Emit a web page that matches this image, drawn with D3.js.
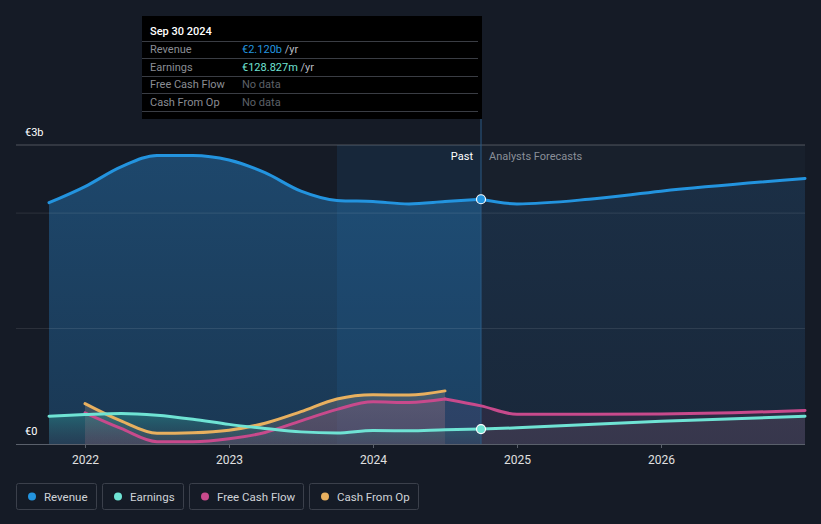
<!DOCTYPE html>
<html>
<head>
<meta charset="utf-8">
<script src="https://cdn.jsdelivr.net/npm/d3@7"></script>
<style>
  html, body { margin: 0; padding: 0; background: #151b26; }
  svg { display: block; font-family: Roboto, "Open Sans", sans-serif; }
</style>
</head>
<body>
<svg id="chart" width="821" height="524"></svg>
<script>
// ---- data (values in € billions, x in fractional years) ----
const revenuePastYears = [2021.75, 2022, 2022.25, 2022.5, 2022.75, 2023, 2023.25, 2023.5, 2023.75, 2024, 2024.25, 2024.5, 2024.75];
const revenuePast      = [2.09, 2.23, 2.40, 2.50, 2.50, 2.46, 2.35, 2.19, 2.11, 2.10, 2.08, 2.10, 2.12];
const revenueFcYears   = [2024.75, 2025, 2025.5, 2026, 2027];
const revenueFc        = [2.12, 2.08, 2.12, 2.19, 2.30];

const earningsPastYears = [2021.75, 2022, 2022.25, 2022.5, 2022.75, 2023, 2023.25, 2023.5, 2023.75, 2024, 2024.25, 2024.5, 2024.75];
const earningsPast      = [0.24, 0.255, 0.265, 0.25, 0.215, 0.17, 0.135, 0.105, 0.095, 0.117, 0.115, 0.124, 0.129];
const earningsFcYears   = [2024.75, 2025, 2026, 2027];
const earningsFc        = [0.129, 0.14, 0.197, 0.24];

const fcfPastYears = [2022, 2022.25, 2022.5, 2022.75, 2023, 2023.25, 2023.5, 2023.75, 2024, 2024.25, 2024.5];
const fcfPast      = [0.27, 0.135, 0.02, 0.02, 0.045, 0.10, 0.20, 0.30, 0.365, 0.36, 0.39];
const fcfFcYears   = [2024.5, 2024.75, 2025, 2025.5, 2026, 2026.5, 2027];
const fcfFc        = [0.39, 0.33, 0.257, 0.257, 0.26, 0.27, 0.29];

const cfoPastYears = [2022, 2022.25, 2022.5, 2022.75, 2023, 2023.25, 2023.5, 2023.75, 2024, 2024.25, 2024.5];
const cfoPast      = [0.35, 0.20, 0.093, 0.098, 0.12, 0.18, 0.28, 0.39, 0.427, 0.424, 0.46];

const xTicks = [2022, 2023, 2024, 2025, 2026];
const yGrid = [1, 2];
const yMax = 2.59;
const yLabels = [{v: 2.59, t: "€3b"}, {v: 0, t: "€0"}];
const pastEnd = 2024.75;
const highlightStart = 2023.75;

const legendItems = [
  {name: "Revenue", color: "#2394df"},
  {name: "Earnings", color: "#6fe3d4"},
  {name: "Free Cash Flow", color: "#c84a8c"},
  {name: "Cash From Op", color: "#e8b05f"}
];

const tooltipTitle = "Sep 30 2024";
const tooltipRows = [
  {label: "Revenue", value: "€2.120b", unit: " /yr", color: "#2394df"},
  {label: "Earnings", value: "€128.827m", unit: " /yr", color: "#6fe3d4"},
  {label: "Free Cash Flow", value: "No data", unit: "", color: "#5d6068"},
  {label: "Cash From Op", value: "No data", unit: "", color: "#5d6068"}
];

// ---- scales ----
const svg = d3.select("#chart");
const x = d3.scaleLinear().domain([2021.743, 2027]).range([48, 805]);
const y = d3.scaleLinear().domain([0, yMax]).range([444, 145]);
const plotLeft = 16, plotRight = 805;

const zip = (xs, vs) => xs.map((t, i) => [t, vs[i]]);
const line = d3.line().x(d => x(d[0])).y(d => y(d[1])).curve(d3.curveMonotoneX);
const area = d3.area().x(d => x(d[0])).y0(y(0)).y1(d => y(d[1])).curve(d3.curveMonotoneX);

const defs = svg.append("defs");
function grad(id, c1, o1, c2, o2) {
  const g = defs.append("linearGradient").attr("id", id).attr("x1", 0).attr("x2", 0).attr("y1", 0).attr("y2", 1);
  g.append("stop").attr("offset", "0%").attr("stop-color", c1).attr("stop-opacity", o1);
  g.append("stop").attr("offset", "100%").attr("stop-color", c2).attr("stop-opacity", o2);
}
grad("gRevPast", "#1f4f78", 0.85, "#1b3d5c", 0.85);
grad("gRevFc", "#1c3550", 0.7, "#1a2d44", 0.6);
grad("gEarn", "#2a8a8a", 0.55, "#3a4a5a", 0.35);
grad("gGrey", "#7a7a7a", 0.45, "#6a6a6a", 0.35);
grad("gEarnFc", "#3a4454", 0.5, "#3a4454", 0.45);

// forecast region background
svg.append("rect").attr("x", x(pastEnd)).attr("y", y(yMax)).attr("width", plotRight - x(pastEnd)).attr("height", y(0) - y(yMax))
  .attr("fill", "#18202c");

// revenue areas
svg.append("path").datum(zip(revenueFcYears, revenueFc)).attr("d", area).attr("fill", "url(#gRevFc)");
svg.append("path").datum(zip(revenuePastYears, revenuePast)).attr("d", area).attr("fill", "url(#gRevPast)");

// highlight band (last year)
svg.append("rect").attr("x", x(highlightStart)).attr("y", y(yMax)).attr("width", x(pastEnd) - x(highlightStart)).attr("height", y(0) - y(yMax))
  .attr("fill", "#2a7fc4").attr("opacity", 0.13);

// gridlines
svg.selectAll(".grid").data(yGrid).enter().append("line")
  .attr("x1", plotLeft).attr("x2", plotRight).attr("y1", d => y(d)).attr("y2", d => y(d))
  .attr("stroke", "#ffffff").attr("stroke-opacity", 0.1).attr("stroke-width", 1);
svg.append("line").attr("x1", plotLeft).attr("x2", plotRight).attr("y1", y(yMax)).attr("y2", y(yMax))
  .attr("stroke", "#ffffff").attr("stroke-opacity", 0.25);

// lower areas
svg.append("path").datum(zip(earningsFcYears, earningsFc)).attr("d", area).attr("fill", "url(#gEarnFc)");
svg.append("path").datum(zip(fcfFcYears, fcfFc)).attr("d", area).attr("fill", "#c84a8c").attr("opacity", 0.1);
svg.append("path").datum(zip(cfoPastYears, cfoPast)).attr("d", area).attr("fill", "url(#gGrey)");
svg.append("path").datum(zip(fcfPastYears, fcfPast)).attr("d", area).attr("fill", "#c84a8c").attr("opacity", 0.15);
svg.append("path").datum(zip(earningsPastYears, earningsPast)).attr("d", area).attr("fill", "url(#gEarn)");

// divider line
svg.append("line").attr("x1", x(pastEnd)).attr("x2", x(pastEnd)).attr("y1", 119).attr("y2", y(0))
  .attr("stroke", "#2a5a85").attr("stroke-width", 1);

// lines
function drawLine(xs, vs, color) {
  svg.append("path").datum(zip(xs, vs)).attr("d", line).attr("fill", "none")
    .attr("stroke", color).attr("stroke-width", 3).attr("stroke-linecap", "round");
}
drawLine(fcfFcYears, fcfFc, "#c84a8c");
drawLine(fcfPastYears, fcfPast, "#c84a8c");
drawLine(cfoPastYears, cfoPast, "#e8b05f");
drawLine(earningsFcYears, earningsFc, "#6fe3d4");
drawLine(earningsPastYears, earningsPast, "#6fe3d4");
drawLine(revenueFcYears, revenueFc, "#2394df");
drawLine(revenuePastYears, revenuePast, "#2394df");

// markers at past end
svg.append("circle").attr("cx", x(pastEnd)).attr("cy", y(revenuePast[revenuePast.length - 1])).attr("r", 4.5)
  .attr("fill", "#2394df").attr("stroke", "#ffffff").attr("stroke-width", 1.2);
svg.append("circle").attr("cx", x(pastEnd)).attr("cy", y(earningsPast[earningsPast.length - 1])).attr("r", 4.5)
  .attr("fill", "#6fe3d4").attr("stroke", "#ffffff").attr("stroke-width", 1.2);

// baseline + x axis
const xAxis = d3.axisBottom(x).tickValues(xTicks).tickFormat(d3.format("d")).tickSize(4).tickPadding(7);
const gx = svg.append("g").attr("transform", `translate(0,${y(0)})`).call(xAxis);
gx.select(".domain").remove();
gx.selectAll(".tick line").attr("stroke", "#5a606b");
gx.selectAll(".tick text").attr("fill", "#e0e0e0").attr("font-size", 12).attr("font-family", "Roboto, sans-serif");
svg.append("line").attr("x1", plotLeft).attr("x2", plotRight).attr("y1", y(0) + 0.5).attr("y2", y(0) + 0.5)
  .attr("stroke", "#5a606b").attr("stroke-width", 1);

// y labels
svg.selectAll(".ylab").data(yLabels).enter().append("text")
  .attr("x", 25).attr("y", d => y(d.v) - 9)
  .attr("fill", "#ffffff").attr("font-size", 11).text(d => d.t);

// Past / Forecast labels
svg.append("text").attr("x", x(pastEnd) - 8).attr("y", 160).attr("text-anchor", "end")
  .attr("fill", "#ffffff").attr("font-size", 11).text("Past");
svg.append("text").attr("x", x(pastEnd) + 8).attr("y", 160)
  .attr("fill", "#8a8f98").attr("font-size", 11).text("Analysts Forecasts");

// tooltip
const tt = svg.append("g");
tt.append("rect").attr("x", 142).attr("y", 16).attr("width", 340).attr("height", 103).attr("fill", "#000000");
tt.append("text").attr("x", 150).attr("y", 35).attr("fill", "#ffffff").attr("font-size", 11).attr("font-weight", 500).text(tooltipTitle);
const sepYs = [41.5, 58.5, 76.5, 93.5, 111.5];
tt.selectAll(".sep").data(sepYs).enter().append("line")
  .attr("x1", 142).attr("x2", 478).attr("y1", d => d).attr("y2", d => d)
  .attr("stroke", "#3a3d44").attr("stroke-width", 1);
tooltipRows.forEach((r, i) => {
  const ty = 53 + i * 17.5;
  tt.append("text").attr("x", 150).attr("y", ty).attr("fill", "#8a8d94").attr("font-size", 11).text(r.label);
  const t = tt.append("text").attr("x", 242).attr("y", ty).attr("font-size", 11);
  t.append("tspan").attr("fill", r.color).text(r.value);
  t.append("tspan").attr("fill", "#b8bbc2").text(r.unit);
});

// legend
const lg = svg.append("g");
let lx = 16;
const legendWidths = [81, 82, 115, 110];
const legendGap = 5;
legendItems.forEach((it, i) => {
  const w = legendWidths[i];
  const g = lg.append("g").attr("transform", `translate(${lx},483)`);
  g.append("rect").attr("x", 0.5).attr("y", 0.5).attr("width", w - 1).attr("height", 26).attr("rx", 2)
    .attr("fill", "none").attr("stroke", "#3b404b");
  g.append("circle").attr("cx", 16).attr("cy", 13.5).attr("r", 4).attr("fill", it.color);
  g.append("text").attr("x", 28).attr("y", 17.5).attr("fill", "#d0d3d8").attr("font-size", 11.5).text(it.name);
  lx += w + legendGap;
});
</script>
</body>
</html>
